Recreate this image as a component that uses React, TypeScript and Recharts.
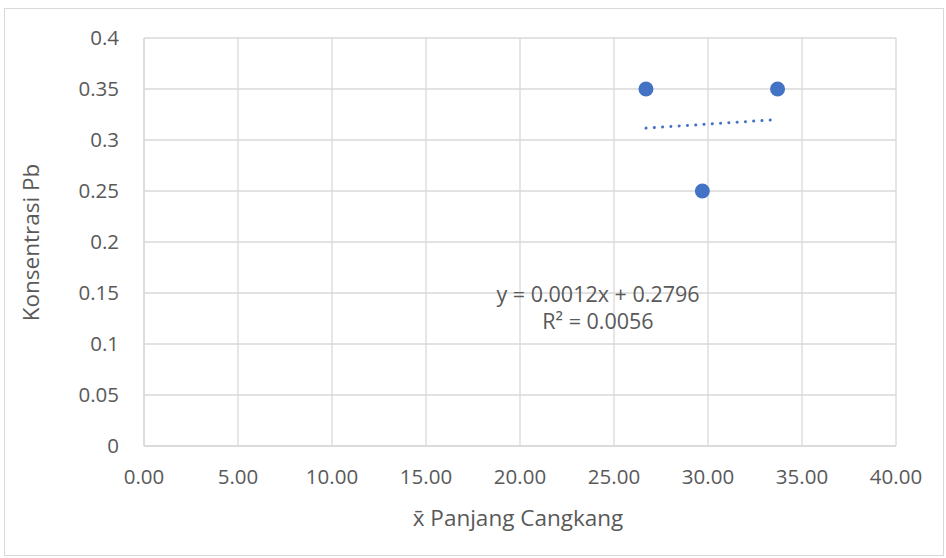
import { ScatterChart, Scatter, XAxis, YAxis, CartesianGrid } from 'recharts';

// Data
const panjang = [26.7, 29.7, 33.7];
const konsentrasi = [0.35, 0.25, 0.35];
const xTicks = [0, 5, 10, 15, 20, 25, 30, 35, 40];
const yTicks = [0, 0.05, 0.1, 0.15, 0.2, 0.25, 0.3, 0.35, 0.4];
const slope = 0.0012;
const intercept = 0.2796;
const rSquared = 0.0056;

const FONT = '"Open Sans", "Noto Sans", sans-serif';
const TEXT = '#595959';
const GRID = '#d9d9d9';
const BLUE = '#4472C4';

const points = panjang.map((x, i) => ({ x, y: konsentrasi[i] }));

// garis tren linear dari persamaan
const xMin = Math.min(...panjang);
const xMax = Math.max(...panjang);
const trend = [
  { x: xMin, y: slope * xMin + intercept },
  { x: xMax, y: slope * xMax + intercept },
];

export default function App() {
  return (
    <div style={{ position: 'absolute', left: 0, top: 0, width: 946, height: 558, background: '#fff', fontFamily: FONT }}>
      <div style={{ position: 'absolute', left: 4, top: 8, width: 940, height: 548, border: `1px solid ${GRID}`, boxSizing: 'border-box' }} />
      <ScatterChart width={946} height={558} margin={{ top: 38, right: 50, bottom: 82, left: 64 }}>
        <CartesianGrid stroke={GRID} strokeWidth={1.3} />
        <XAxis
          type="number"
          dataKey="x"
          domain={[0, 40]}
          ticks={xTicks}
          tickFormatter={(v: number) => v.toFixed(2)}
          axisLine={{ stroke: GRID, strokeWidth: 1.3 }}
          tickLine={false}
          tick={{ fill: TEXT, fontSize: 20.5, fontFamily: FONT }}
          tickMargin={17}
          height={30}
        />
        <YAxis
          type="number"
          dataKey="y"
          domain={[0, 0.4]}
          ticks={yTicks}
          axisLine={{ stroke: GRID, strokeWidth: 1.3 }}
          tickLine={false}
          tick={{ fill: TEXT, fontSize: 20.5, fontFamily: FONT }}
          tickMargin={19}
          width={80}
        />
        <Scatter data={points} fill={BLUE} shape={(p: any) => <circle cx={p.cx} cy={p.cy} r={7.5} fill={BLUE} />} isAnimationActive={false} />
        <Scatter
          data={trend}
          line={{ stroke: BLUE, strokeWidth: 3, strokeDasharray: '0.1 8.2', strokeLinecap: 'round' }}
          shape={() => <g />}
          isAnimationActive={false}
        />
      </ScatterChart>
      <div style={{ position: 'absolute', left: 448, top: 280, width: 300, textAlign: 'center', color: TEXT, fontSize: 21.5, lineHeight: '27px' }}>
        <div>y = {slope.toFixed(4)}x + {intercept.toFixed(4)}</div>
        <div>R² = {rSquared.toFixed(4)}</div>
      </div>
      <div style={{ position: 'absolute', left: 318, top: 502, width: 400, textAlign: 'center', color: TEXT, fontSize: 22.5 }}>
        x̄ Panjang Cangkang
      </div>
      <div style={{ position: 'absolute', left: 30, top: 243, width: 0, height: 0 }}>
        <div style={{ position: 'absolute', left: -150, top: -16, width: 300, textAlign: 'center', color: TEXT, fontSize: 22.5, transform: 'rotate(-90deg)', whiteSpace: 'nowrap' }}>
          Konsentrasi Pb
        </div>
      </div>
    </div>
  );
}
